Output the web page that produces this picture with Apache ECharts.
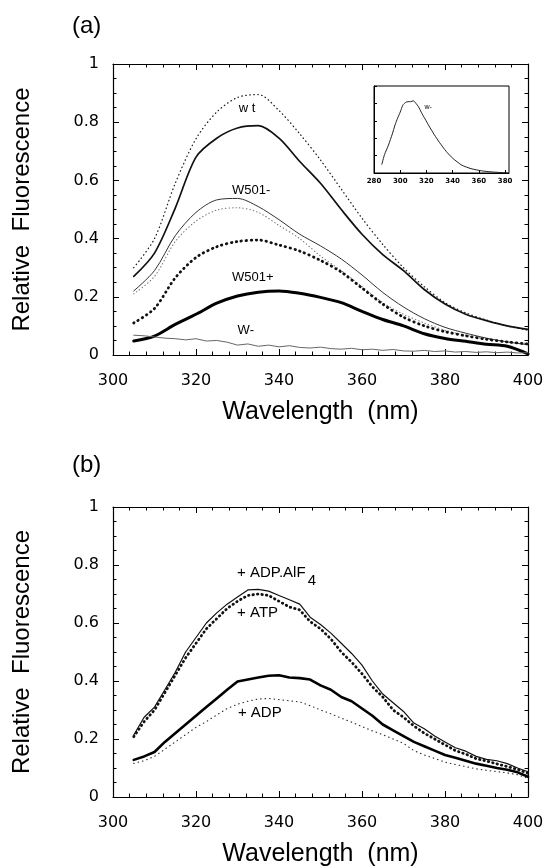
<!DOCTYPE html>
<html>
<head>
<meta charset="utf-8">
<script src="https://cdn.jsdelivr.net/npm/echarts@6/dist/echarts.min.js"></script>
<style>
html, body { margin: 0; padding: 0; background: #fff; }
#chart { width: 546px; height: 867px; }
</style>
</head>
<body>
<div id="chart"></div>
<script>
// panel (a): wavelengths (nm) and relative fluorescence
var nmA = [305, 310, 315, 320, 325, 330, 335, 340, 345, 350, 355, 360, 365, 370, 375, 380, 385, 390, 395, 400];
var wtDot = [0.30, 0.40, 0.59, 0.743, 0.835, 0.885, 0.895, 0.84, 0.76, 0.67, 0.57, 0.47, 0.38, 0.30, 0.235, 0.18, 0.145, 0.12, 0.10, 0.085];
var wtSolid = [0.27, 0.35, 0.505, 0.68, 0.745, 0.78, 0.788, 0.745, 0.665, 0.59, 0.50, 0.415, 0.345, 0.29, 0.225, 0.175, 0.14, 0.118, 0.10, 0.088];
var w501mSolid = [0.22, 0.29, 0.41, 0.49, 0.533, 0.538, 0.51, 0.465, 0.415, 0.375, 0.33, 0.275, 0.215, 0.165, 0.125, 0.095, 0.075, 0.058, 0.045, 0.035];
var w501mDot = [0.21, 0.27, 0.39, 0.46, 0.498, 0.506, 0.49, 0.445, 0.40, 0.34, 0.29, 0.235, 0.18, 0.14, 0.11, 0.085, 0.068, 0.055, 0.045, 0.04];
var w501pDot = [0.11, 0.16, 0.265, 0.335, 0.372, 0.39, 0.395, 0.378, 0.357, 0.325, 0.285, 0.23, 0.175, 0.13, 0.10, 0.08, 0.066, 0.054, 0.045, 0.038];
var w501pSolid = [0.048, 0.065, 0.105, 0.14, 0.178, 0.203, 0.216, 0.22, 0.212, 0.198, 0.18, 0.15, 0.122, 0.10, 0.073, 0.057, 0.047, 0.037, 0.03, 0.004];

var nmFine = [305, 307.5, 310, 312.5, 315, 317.5, 320, 322.5, 325, 327.5, 330, 332.5, 335, 337.5, 340, 342.5, 345, 347.5, 350, 352.5,
  355, 357.5, 360, 362.5, 365, 367.5, 370, 372.5, 375, 377.5, 380, 382.5, 385, 387.5, 390, 392.5, 395, 397.5, 400];
var wMinus = [0.068, 0.066, 0.062, 0.058, 0.056, 0.052, 0.056, 0.048, 0.05, 0.044, 0.034, 0.038, 0.03, 0.034, 0.028, 0.032, 0.026, 0.024, 0.027, 0.022,
  0.02, 0.023, 0.018, 0.02, 0.016, 0.019, 0.014, 0.013, 0.016, 0.012, 0.014, 0.01, 0.012, 0.009, 0.011, 0.008, 0.01, 0.007, 0.008];

// inset: W- full spectrum
var insetNm = [286, 288, 291, 294, 296, 298, 300, 302, 304, 306, 308, 310, 312, 314, 316, 319, 322, 326, 330, 335, 340, 347, 354, 362, 370, 382];
var insetVal = [0.10, 0.21, 0.32, 0.45, 0.55, 0.63, 0.70, 0.78, 0.81, 0.82, 0.82, 0.83, 0.80, 0.76, 0.70, 0.62, 0.54, 0.44, 0.35, 0.25, 0.17, 0.09, 0.05, 0.025, 0.012, 0.0];

// panel (b)
var bAlf = [0.214, 0.275, 0.31, 0.37, 0.43, 0.50, 0.55, 0.60, 0.635, 0.665, 0.69, 0.714, 0.716, 0.71, 0.695, 0.68, 0.665, 0.62, 0.595, 0.565,
  0.53, 0.495, 0.455, 0.40, 0.355, 0.325, 0.295, 0.255, 0.235, 0.21, 0.19, 0.17, 0.158, 0.14, 0.13, 0.125, 0.115, 0.10, 0.087];
var bAtp = [0.208, 0.26, 0.30, 0.36, 0.42, 0.48, 0.53, 0.58, 0.615, 0.65, 0.675, 0.695, 0.70, 0.695, 0.675, 0.655, 0.645, 0.605, 0.58, 0.545,
  0.50, 0.465, 0.425, 0.38, 0.345, 0.30, 0.275, 0.245, 0.22, 0.20, 0.18, 0.16, 0.148, 0.132, 0.124, 0.114, 0.105, 0.095, 0.082];
var bApo = [0.128, 0.14, 0.155, 0.19, 0.22, 0.25, 0.28, 0.31, 0.34, 0.37, 0.398, 0.405, 0.412, 0.418, 0.42, 0.412, 0.41, 0.405, 0.385, 0.37,
  0.345, 0.33, 0.305, 0.28, 0.25, 0.23, 0.21, 0.19, 0.175, 0.16, 0.145, 0.135, 0.125, 0.115, 0.108, 0.10, 0.094, 0.085, 0.07];
var bAdp = [0.116, 0.125, 0.14, 0.165, 0.19, 0.215, 0.24, 0.26, 0.283, 0.305, 0.32, 0.33, 0.338, 0.34, 0.336, 0.332, 0.328, 0.315, 0.30, 0.287,
  0.272, 0.258, 0.243, 0.228, 0.215, 0.20, 0.185, 0.16, 0.145, 0.133, 0.12, 0.112, 0.105, 0.097, 0.092, 0.088, 0.083, 0.077, 0.064];

// curve labels, in data coordinates [grid, text, nm, value, size, align]
var curveLabels = [
  [0, 'w t', 332.3, 0.849, 13, 'center'],
  [0, 'W501-', 333.3, 0.567, 13, 'center'],
  [0, 'W501+', 333.7, 0.265, 13, 'center'],
  [0, 'W-', 332, 0.086, 13, 'center'],
  [1, '+ ADP.AlF', 329.9, 0.772, 15, 'left'],
  [1, '4', 346.9, 0.745, 15, 'left'],
  [1, '+ ATP', 329.9, 0.634, 15, 'left'],
  [1, '+ ADP', 330.1, 0.29, 15, 'left'],
  [2, 'w-', 318.5, 0.76, 7, 'left']
];

var font = 'Liberation Sans';

function pairs(xs, ys) {
  return xs.map(function (x, i) { return [x, ys[i]]; });
}

function xAx(grid, pos, main) {
  return {
    type: 'value', gridIndex: grid, position: pos, min: 300, max: 400, interval: 20,
    axisLine: { show: true, onZero: false, lineStyle: { color: '#000', width: 1.2 } },
    axisTick: { show: true, inside: true, length: 6, lineStyle: { color: '#000', width: 1 } },
    minorTick: { show: true, splitNumber: 5, length: 3.5, lineStyle: { color: '#000', width: 1 } },
    splitLine: { show: false },
    axisLabel: { show: main, margin: 18, color: '#000', fontSize: 16, fontFamily: 'DejaVu Sans' },
    name: main ? 'Wavelength  (nm)' : '',
    nameLocation: 'middle', nameGap: 45,
    nameTextStyle: { fontSize: 25, fontFamily: font, color: '#000' }
  };
}

function yAx(grid, pos, main) {
  return {
    type: 'value', gridIndex: grid, position: pos, min: 0, max: 1, interval: 0.2,
    axisLine: { show: true, onZero: false, lineStyle: { color: '#000', width: 1.2 } },
    axisTick: { show: true, inside: true, length: 6, lineStyle: { color: '#000', width: 1 } },
    minorTick: { show: true, splitNumber: 4, length: 3.5, lineStyle: { color: '#000', width: 1 } },
    splitLine: { show: false },
    axisLabel: { show: main, margin: 14, color: '#000', fontSize: 16, fontFamily: 'DejaVu Sans' },
    name: main ? 'Relative  Fluorescence' : '',
    nameLocation: 'middle', nameGap: 79, nameRotate: 90,
    nameTextStyle: { fontSize: 24, fontFamily: font, color: '#000' }
  };
}

function line(name, xs, ys, ax, width, color, dash, smooth) {
  return {
    name: name, type: 'line', xAxisIndex: ax, yAxisIndex: ax,
    data: pairs(xs, ys), showSymbol: false, symbol: 'none', smooth: smooth,
    silent: true,
    lineStyle: { color: color, width: width, type: dash || 'solid', cap: 'round', join: 'round' }
  };
}

var chart = echarts.init(document.getElementById('chart'), null, { renderer: 'canvas' });

var option = {
  animation: false,
  backgroundColor: '#fff',
  grid: [
    { left: 113, top: 64, width: 415, height: 291, outerBoundsMode: 'none' },
    { left: 113, top: 507, width: 415, height: 290, outerBoundsMode: 'none' },
    { left: 374, top: 86, width: 135, height: 87, show: true, backgroundColor: '#fff',
      borderColor: '#000', borderWidth: 1, z: 5, outerBoundsMode: 'none' }
  ],
  xAxis: [
    xAx(0, 'bottom', true), xAx(0, 'top', false),
    xAx(1, 'bottom', true), xAx(1, 'top', false),
    {
      type: 'value', gridIndex: 2, min: 280, max: 383, interval: 20, z: 6,
      axisLine: { show: true, onZero: false, lineStyle: { color: '#000', width: 1 } },
      axisTick: { show: true, inside: true, length: 3, lineStyle: { color: '#000' } },
      splitLine: { show: false },
      axisLabel: { margin: 5, color: '#000', fontSize: 7, fontWeight: 'bold', fontFamily: 'DejaVu Sans', showMaxLabel: false }
    }
  ],
  yAxis: [
    yAx(0, 'left', true), yAx(0, 'right', false),
    yAx(1, 'left', true), yAx(1, 'right', false),
    {
      type: 'value', gridIndex: 2, min: 0, max: 1, interval: 0.2, z: 6,
      axisLine: { show: true, onZero: false, lineStyle: { color: '#000', width: 1 } },
      axisTick: { show: true, inside: true, length: 3, lineStyle: { color: '#000' } },
      splitLine: { show: false },
      axisLabel: { show: false }
    }
  ],
  series: [
    line('wt', nmA, wtDot, 0, 1.3, '#222', [0.5, 3.5], 0.3),
    line('wt solid', nmA, wtSolid, 0, 1.7, '#111', 'solid', 0.3),
    line('W501-', nmA, w501mSolid, 0, 1, '#333', 'solid', 0.3),
    line('W501- dotted', nmA, w501mDot, 0, 1.1, '#777', [0.5, 3], 0.3),
    line('W501+ dotted', nmA, w501pDot, 0, 2.8, '#111', [0.5, 4.5], 0.3),
    line('W501+', nmA, w501pSolid, 0, 3, '#000', 'solid', 0.3),
    line('W-', nmFine, wMinus, 0, 1, '#666', 'solid', false),
    line('+ ADP.AlF4', nmFine, bAlf, 2, 1.2, '#111', 'solid', false),
    line('+ ATP', nmFine, bAtp, 2, 2.8, '#111', [0.5, 4], false),
    line('no nucleotide', nmFine, bApo, 2, 2.6, '#000', 'solid', false),
    line('+ ADP', nmFine, bAdp, 2, 1.2, '#333', [0.5, 4], false),
    Object.assign(line('inset W-', insetNm, insetVal, 4, 1, '#222', 'solid', 0.2), { z: 7 })
  ]
};

chart.setOption(option);

// panel letters and curve labels
var graphics = [
  { type: 'text', x: 72, y: 26, style: { text: '(a)', font: '24px ' + font, fill: '#000', verticalAlign: 'middle', textVerticalAlign: 'middle' } },
  { type: 'text', x: 72, y: 465, style: { text: '(b)', font: '24px ' + font, fill: '#000', verticalAlign: 'middle', textVerticalAlign: 'middle' } }
];
curveLabels.forEach(function (l) {
  var p = chart.convertToPixel({ gridIndex: l[0] }, [l[2], l[3]]);
  graphics.push({
    type: 'text', x: p[0], y: p[1], z: 10,
    style: {
      text: l[1], font: l[4] + 'px ' + font, fill: '#000',
      align: l[5], textAlign: l[5], verticalAlign: 'middle', textVerticalAlign: 'middle'
    }
  });
});
chart.setOption({ graphic: graphics });
</script>
</body>
</html>
